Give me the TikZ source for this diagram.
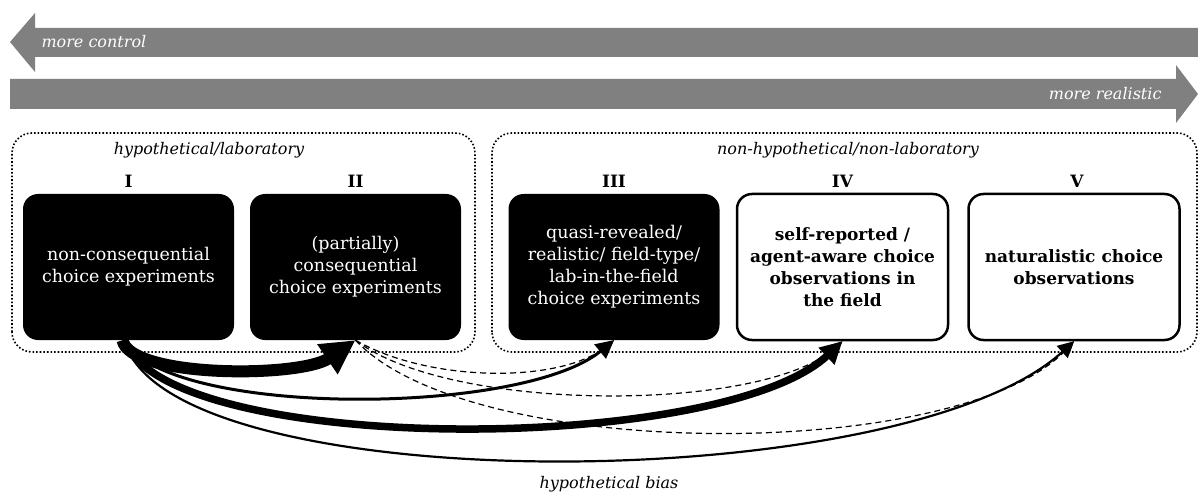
\documentclass[tikz,border=0pt]{standalone}
\usepackage{fontspec}
\setmainfont{DejaVu Serif}
\usetikzlibrary{arrows.meta}

\begin{document}
\begin{tikzpicture}[x=1pt, y=1pt, font=\fontsize{17.5}{22}\selectfont,
	box/.style={rounded corners=15pt, minimum width=211pt, minimum height=146pt, align=center},
	dark/.style={box, fill=black, text=white},
	light/.style={box, draw, line width=2.5pt, fill=white, font=\fontsize{17}{22}\selectfont\bfseries},
	group/.style={draw, dotted, line width=1.6pt, rounded corners=20pt},
	label/.style={font=\fontsize{16}{20}\selectfont\itshape},
	numeral/.style={font=\fontsize{17}{22}\selectfont\bfseries},
	bias/.style={-{Triangle[length=#1, width=#1]}},
	weak/.style={dashed, dash pattern=on 6pt off 4pt, line width=1.2pt, -{Triangle[length=12pt, width=10pt]}}]
	\useasboundingbox (0,0) rectangle (1198,496);

	\fill [gray] (10,454) -- (35,483) -- (35,468) -- (1198,468) -- (1198,439) -- (35,439) -- (35,424) -- cycle;
	\fill [gray] (10,417) -- (1176,417) -- (1176,431) -- (1198,402) -- (1176,373) -- (1176,387) -- (10,387) -- cycle;
	\node [label, anchor=west, text=white] (control) at (38,454) {more control};
	\node [label, anchor=east, text=white] (realistic) at (1165,402) {more realistic};

	\draw [group] (12,144) rectangle (475,363);
	\draw [group] (492,144) rectangle (1197,363);
	\node [label] (lab) at (209,346) {hypothetical/laboratory};
	\node [label] (field) at (848,346) {non-hypothetical/non-laboratory};

	\node [dark] (I) at (128.5,229) {non-consequential\\choice experiments};
	\node [dark] (II) at (355.5,229) {(partially)\\consequential\\choice experiments};
	\node [dark] (III) at (614,229) {quasi-revealed/\\realistic/ field-type/\\lab-in-the-field\\choice experiments};
	\node [light] (IV) at (842.5,229) {self-reported /\\agent-aware choice\\observations in\\the field};
	\node [light] (V) at (1074,229) {naturalistic choice\\observations};

	\node [numeral] (nI) at (128.5,314.5) {I};
	\node [numeral] (nII) at (355.5,314.5) {II};
	\node [numeral] (nIII) at (614,314.5) {III};
	\node [numeral] (nIV) at (842.5,314.5) {IV};
	\node [numeral] (nV) at (1077,314.5) {V};

	\draw [weak] (II.south) .. controls (430,113) and (560,113) .. (III.south);
	\draw [weak] (II.south) .. controls (450,83) and (760,83) .. (IV.south);
	\draw [weak] (II.south) .. controls (470,33) and (960,33) .. (V.south);

	\draw [bias=34pt, line width=12pt] ([xshift=-6pt]I.south) .. controls (130,118) and (300,118) .. (II.south);
	\draw [bias=18pt, line width=3pt] ([xshift=-4pt]I.south) .. controls (165,79) and (520,79) .. (III.south);
	\draw [bias=22pt, line width=7.5pt] ([xshift=-4pt]I.south) .. controls (165,40) and (720,40) .. (IV.south);
	\draw [bias=16pt, line width=2.2pt] ([xshift=-4pt]I.south) .. controls (165,-4) and (900,-4) .. (V.south);

	\node [label] (hb) at (609,12) {hypothetical bias};
\end{tikzpicture}
\end{document}
